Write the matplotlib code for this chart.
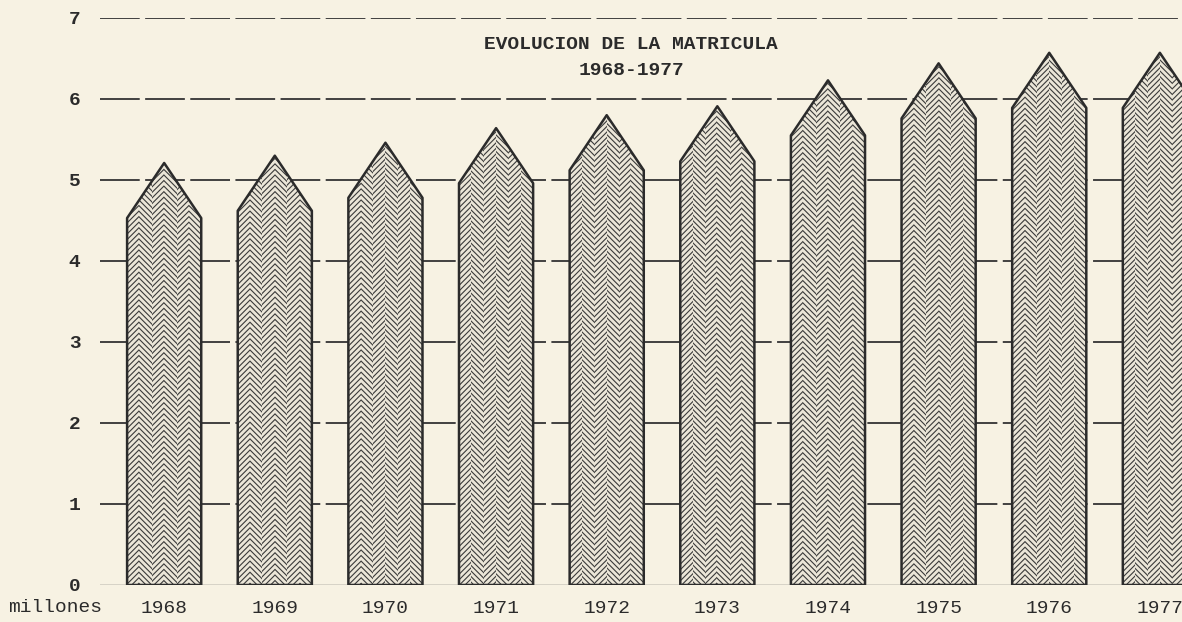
import matplotlib.pyplot as plt
from matplotlib.patches import Polygon, Rectangle

years = ["1968", "1969", "1970", "1971", "1972", "1973", "1974", "1975", "1976", "1977"]
# matricula total, millones de alumnos (top of each pencil)
matricula = [5.21, 5.30, 5.46, 5.64, 5.80, 5.91, 6.23, 6.44, 6.57, 6.57]
yticks = [0, 1, 2, 3, 4, 5, 6, 7]

paper = "#f7f2e3"
ink = "#2b2b2b"
font = "Liberation Mono"

plt.rcParams["hatch.linewidth"] = 0.8

fig = plt.figure(figsize=(11.82, 6.22), dpi=100, facecolor=paper)
ax = fig.add_axes([0.0846, 0.0595, 0.9154, 0.9116])
ax.set_facecolor(paper)
ax.set_xlim(-0.58, 9.2)
ax.set_ylim(0, 7)

# dashed guide lines between the pencils
for v in yticks[1:]:
    ax.axhline(v, color="#333333", lw=1.3, ls=(0, (22, 3)), zorder=1)
ax.axhline(0, color="#555555", lw=1.0, zorder=1)

width = 0.67
tip = 0.68
nstrip = 6
for i, val in enumerate(matricula):
    x0 = i - width / 2
    x1 = i + width / 2
    shoulder = val - tip
    outline = Polygon([(x0, 0), (x1, 0), (x1, shoulder), (i, val), (x0, shoulder)],
                      closed=True, facecolor="#ebe6d8", edgecolor="none", zorder=2)
    ax.add_patch(outline)
    # herringbone fill: alternate hatch direction strip by strip
    sw = width / nstrip
    for k in range(nstrip):
        strip = Rectangle((x0 + k * sw, 0), sw, val,
                          facecolor="none", edgecolor="#3a3a3a", lw=0,
                          hatch="//////" if k % 2 == 0 else "\\\\\\\\\\\\", zorder=3)
        ax.add_patch(strip)
        strip.set_clip_path(outline)
    ax.add_patch(Polygon([(x0, 0), (x1, 0), (x1, shoulder), (i, val), (x0, shoulder)],
                         closed=True, facecolor="none", edgecolor=ink, lw=1.8,
                         joinstyle="round", zorder=4))

for s in ax.spines.values():
    s.set_visible(False)
ax.set_xticks(range(len(years)))
ax.set_xticklabels(years, fontfamily=font, fontsize=14, color=ink)
ax.set_yticks(yticks)
ax.set_yticklabels([str(v) for v in yticks], fontfamily=font, fontsize=14,
                   fontweight="bold", color=ink)
ax.tick_params(axis="x", length=0, pad=11)
ax.tick_params(axis="y", length=0, pad=14)

fig.text(0.047, 0.024, "millones", fontfamily=font, fontsize=14, color=ink,
         ha="center", va="center")
fig.text(0.534, 0.928, "EVOLUCION DE LA MATRICULA", fontfamily=font, fontsize=14,
         fontweight="bold", color=ink, ha="center", va="center")
fig.text(0.534, 0.887, "1968-1977", fontfamily=font, fontsize=14,
         fontweight="bold", color=ink, ha="center", va="center")

fig.savefig("out.png", dpi=100, facecolor=paper)
